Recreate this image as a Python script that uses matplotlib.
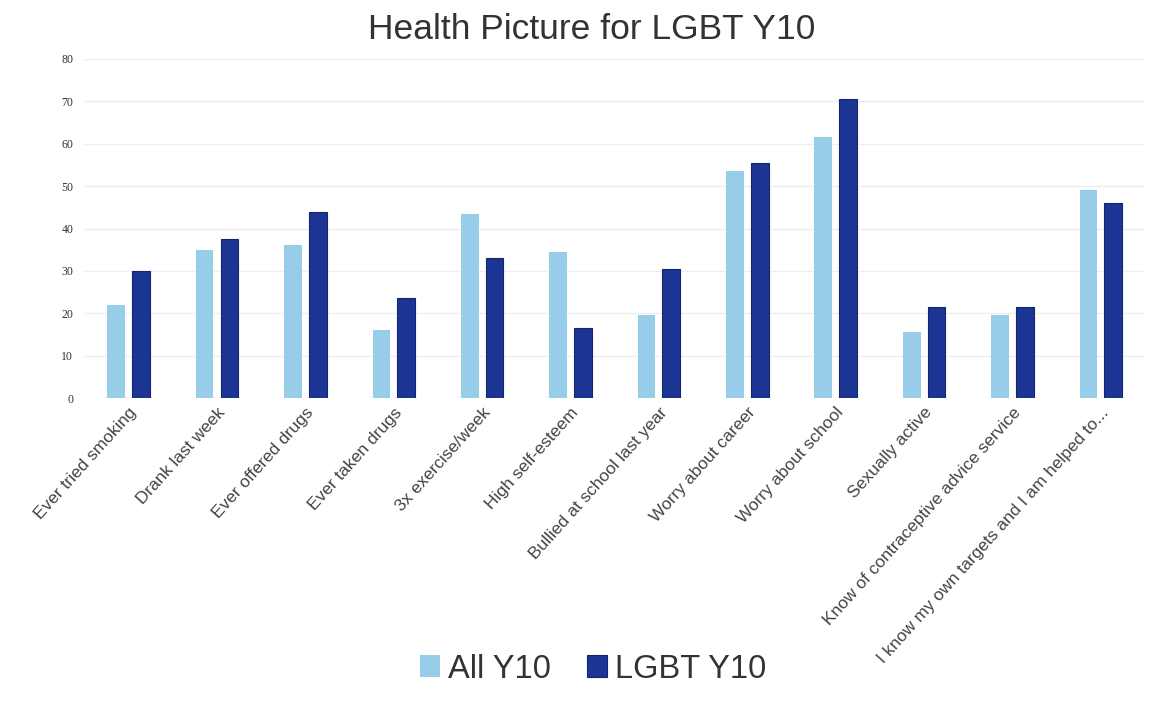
import numpy as np
import matplotlib.pyplot as plt
from matplotlib.ticker import MultipleLocator

categories = [
    "Ever tried smoking",
    "Drank last week",
    "Ever offered drugs",
    "Ever taken drugs",
    "3x exercise/week",
    "High self-esteem",
    "Bullied at school last year",
    "Worry about career",
    "Worry about school",
    "Sexually active",
    "Know of contraceptive advice service",
    "I know my own targets and I am helped to...",
]
all_y10 = [22, 35, 36, 16, 43.5, 34.5, 19.5, 53.5, 61.5, 15.5, 19.5, 49]
lgbt_y10 = [30, 37.5, 44, 23.5, 33, 16.5, 30.5, 55.5, 70.5, 21.5, 21.5, 46]

light = '#98cdea'
dark = '#1c3594'

fig = plt.figure(figsize=(11.72, 7.02), dpi=100)
ax = fig.add_axes([0.072, 0.433, 0.905, 0.483])

x = np.arange(len(categories))
w = 0.2
ax.bar(x - 0.14, all_y10, w, color=light, label='All Y10', zorder=2)
ax.bar(x + 0.14, lgbt_y10, w, color=dark, edgecolor='#12256e', linewidth=0.8,
       label='LGBT Y10', zorder=2)

ax.set_xlim(-0.5, len(categories) - 0.5)
ax.set_ylim(0, 80)
ax.yaxis.set_major_locator(MultipleLocator(10))
ax.grid(True, axis='y', color='#eeeeee', linewidth=1, zorder=0)
for s in ax.spines.values():
    s.set_visible(False)
ax.tick_params(length=0)

ax.set_xticks(x)
ax.set_xticklabels(categories, rotation=48, ha='right', rotation_mode='anchor',
                   fontsize=12.5, color='#444444', family='Liberation Sans')
for lab in ax.get_yticklabels():
    lab.set_fontsize(8.5)
    lab.set_family('Liberation Serif')
    lab.set_color('#333333')
ax.tick_params(axis='y', pad=8)
ax.tick_params(axis='x', pad=5)

fig.suptitle('Health Picture for LGBT Y10', x=0.505, y=0.958, va='center',
             fontsize=25.5, color='#333333', family='Liberation Sans')

fig.legend(loc='center', bbox_to_anchor=(0.506, 0.047), ncol=2, frameon=False,
           prop={'family': 'Liberation Sans', 'size': 23.5}, handlelength=0.62,
           handleheight=0.62, handletextpad=0.25, columnspacing=1.1,
           labelcolor='#333333')

fig.savefig('out.png', dpi=100, facecolor='white')
